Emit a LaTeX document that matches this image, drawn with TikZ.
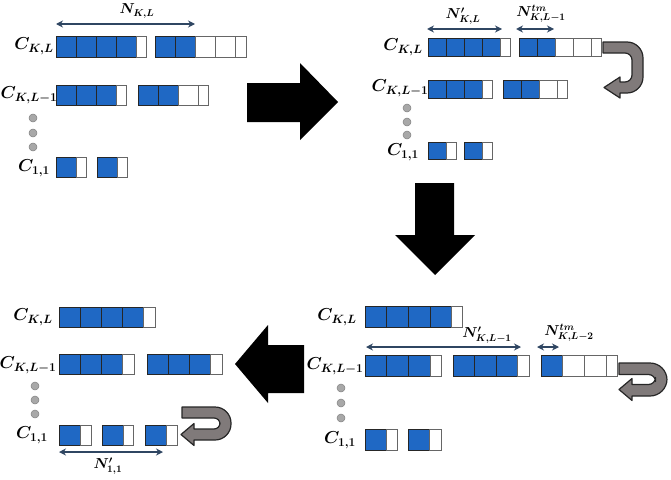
\documentclass[tikz,border=0pt]{standalone}
\usepackage{amsmath,bm}
\usetikzlibrary{arrows.meta}
\definecolor{cblue}{RGB}{31,104,196}
\definecolor{navy}{RGB}{47,70,98}
\definecolor{ugray}{RGB}{128,122,122}
\definecolor{dotgray}{RGB}{168,168,168}
\begin{document}
\begin{tikzpicture}[x=1pt,y=-1pt,
  bluecell/.style={fill=cblue,draw=black!85,line width=0.7pt},
  whitecell/.style={fill=white,draw=black!60,line width=0.7pt},
  clabel/.style={font=\fontsize{18}{20}\selectfont,inner sep=0pt},
  nlabel/.style={font=\fontsize{14}{16}\selectfont,inner sep=0pt},
  dimarrow/.style={draw=navy,line width=1.6pt,{Stealth[length=7pt,width=7pt]}-{Stealth[length=7pt,width=7pt]}},
  bigarrow/.style={fill=black,draw=none},
  uturn/.style={fill=ugray,draw=black!85,line width=1.2pt,line join=round},
  vdot/.style={circle,fill=dotgray,draw=black!50,line width=0.5pt,minimum size=8pt,inner sep=0pt}
]
\useasboundingbox (0,0) rectangle (671,479);

% ================= Panel 1 (top left) =================
\node[clabel] (p1a) at (34,46) {$\bm{C_{K,L}}$};
\node[clabel] (p1b) at (29,95) {$\bm{C_{K,L-1}}$};
\node[clabel] (p1c) at (34,168) {$\bm{C_{1,1}}$};
\node[vdot] (p1d1) at (33,118) {};
\node[vdot] (p1d2) at (33,133) {};
\node[vdot] (p1d3) at (33,147) {};
% row K,L
\foreach \x in {56,76,96,116} \draw[bluecell] (\x,36) rectangle ++(20,21);
\draw[whitecell] (136,36) rectangle (146,57);
\foreach \x in {155,175} \draw[bluecell] (\x,36) rectangle ++(20,21);
\foreach \x in {195,215} \draw[whitecell] (\x,36) rectangle ++(20,21);
\draw[whitecell] (235,36) rectangle (246,57);
% row K,L-1
\foreach \x in {56,76,96} \draw[bluecell] (\x,85) rectangle ++(20,20);
\draw[whitecell] (116,85) rectangle (126,105);
\foreach \x in {138,158} \draw[bluecell] (\x,85) rectangle ++(20,20);
\draw[whitecell] (178,85) rectangle (198,105);
\draw[whitecell] (198,85) rectangle (208,105);
% row 1,1
\draw[bluecell] (56,157) rectangle ++(20,20);
\draw[whitecell] (76,157) rectangle (86,177);
\draw[bluecell] (97,157) rectangle ++(20,20);
\draw[whitecell] (117,157) rectangle (127,177);
% dimension
\coordinate (n1a) at (56,24);
\coordinate (n1b) at (195,24);
\draw[dimarrow] (n1a) -- (n1b);
\node[nlabel] (n1l) at (137,11) {$\bm{N_{K,L}}$};

% ================= Panel 2 (top right) =================
\node[clabel] (p2a) at (403,47) {$\bm{C_{K,L}}$};
\node[clabel] (p2b) at (400,88) {$\bm{C_{K,L-1}}$};
\node[clabel] (p2c) at (403,152) {$\bm{C_{1,1}}$};
\node[vdot] (p2d1) at (407,108) {};
\node[vdot] (p2d2) at (407,122) {};
\node[vdot] (p2d3) at (407,135) {};
\foreach \x in {428,446,464,482} \draw[bluecell] (\x,38) rectangle ++(18,18);
\draw[whitecell] (500,38) rectangle (510,56);
\foreach \x in {519,537} \draw[bluecell] (\x,38) rectangle ++(18,18);
\foreach \x in {555,573} \draw[whitecell] (\x,38) rectangle ++(18,18);
\draw[whitecell] (591,38) rectangle (601,56);
\foreach \x in {428,446,464} \draw[bluecell] (\x,80) rectangle ++(18,18);
\draw[whitecell] (482,80) rectangle (492,98);
\foreach \x in {503,521} \draw[bluecell] (\x,80) rectangle ++(18,18);
\draw[whitecell] (539,80) rectangle (557,98);
\draw[whitecell] (557,80) rectangle (567,98);
\draw[bluecell] (428,142) rectangle ++(18,17);
\draw[whitecell] (446,142) rectangle (456,159);
\draw[bluecell] (464,142) rectangle ++(18,17);
\draw[whitecell] (482,142) rectangle (492,159);
\coordinate (n2a) at (427,29);
\coordinate (n2b) at (502,29);
\draw[dimarrow] (n2a) -- (n2b);
\node[nlabel] (n2l) at (463,16) {$\bm{N'_{K,L}}$};
\coordinate (n3a) at (516,29);
\coordinate (n3b) at (554,29);
\draw[dimarrow] (n3a) -- (n3b);
\node[nlabel] (n3l) at (541,14) {$\bm{N^{tm}_{K,L-1}}$};
% U-turn
\draw[uturn] (603,42) [rounded corners=16] -- (643,42) -- (643,93) [sharp corners] -- (620,93) -- (620,98) -- (604,87.5) -- (620,77) -- (620,82) [rounded corners=7] -- (632,82) -- (632,53) [sharp corners] -- (603,53) -- cycle;

% ================= Panel 3 (bottom right) =================
\node[clabel] (p3a) at (337,317) {$\bm{C_{K,L}}$};
\node[clabel] (p3b) at (335,366) {$\bm{C_{K,L-1}}$};
\node[clabel] (p3c) at (340,440) {$\bm{C_{1,1}}$};
\node[vdot] (p3d1) at (341,388) {};
\node[vdot] (p3d2) at (341,403) {};
\node[vdot] (p3d3) at (341,418) {};
\foreach \x in {365,386.7,408.4,430.1} \draw[bluecell] (\x,306) rectangle ++(21.7,21);
\draw[whitecell] (451.8,306) rectangle (462.5,327);
\foreach \x in {365,386.7,408.4} \draw[bluecell] (\x,355) rectangle ++(21.7,21);
\draw[whitecell] (430.1,355) rectangle (441,376);
\foreach \x in {453,474.5,496} \draw[bluecell] (\x,355) rectangle ++(21.5,21);
\draw[whitecell] (517.5,355) rectangle (529,376);
\draw[bluecell] (541,355) rectangle ++(21.5,21);
\draw[whitecell] (562.5,355) rectangle (584,376);
\draw[whitecell] (584,355) rectangle (606,376);
\draw[whitecell] (606,355) rectangle (617,376);
\draw[bluecell] (365,429) rectangle ++(21.5,21);
\draw[whitecell] (386.5,429) rectangle (397.5,450);
\draw[bluecell] (408,429) rectangle ++(21.5,21);
\draw[whitecell] (429.5,429) rectangle (441,450);
\coordinate (n4a) at (366,347);
\coordinate (n4b) at (521,347);
\draw[dimarrow] (n4a) -- (n4b);
\node[nlabel] (n4l) at (487,335) {$\bm{N'_{K,L-1}}$};
\coordinate (n5a) at (537,347);
\coordinate (n5b) at (559,347);
\draw[dimarrow] (n5a) -- (n5b);
\node[nlabel] (n5l) at (569,333) {$\bm{N^{tm}_{K,L-2}}$};
% U-turn
\draw[uturn] (619,363) [rounded corners=17] -- (667,363) -- (667,396) [sharp corners] -- (632,396) -- (632,400.5) -- (619,389.5) -- (632,378.5) -- (632,384.5) [rounded corners=7] -- (655.5,384.5) -- (655.5,374.5) [sharp corners] -- (619,374.5) -- cycle;

% ================= Panel 4 (bottom left) =================
\node[clabel] (p4a) at (33,317) {$\bm{C_{K,L}}$};
\node[clabel] (p4b) at (28,365) {$\bm{C_{K,L-1}}$};
\node[clabel] (p4c) at (32,435) {$\bm{C_{1,1}}$};
\node[vdot] (p4d1) at (35,386) {};
\node[vdot] (p4d2) at (35,400) {};
\node[vdot] (p4d3) at (35,414) {};
\foreach \x in {59,80,101,122} \draw[bluecell] (\x,307) rectangle ++(21,20);
\draw[whitecell] (143,307) rectangle (155,327);
\foreach \x in {59,80,101} \draw[bluecell] (\x,354) rectangle ++(21,20);
\draw[whitecell] (122,354) rectangle (134,374);
\foreach \x in {147,168,189} \draw[bluecell] (\x,354) rectangle ++(21,20);
\draw[whitecell] (210,354) rectangle (222,374);
\draw[bluecell] (59,425) rectangle ++(21,20);
\draw[whitecell] (80,425) rectangle (91,445);
\draw[bluecell] (102,425) rectangle ++(21,20);
\draw[whitecell] (123,425) rectangle (133,445);
\draw[bluecell] (145,425) rectangle ++(21,20);
\draw[whitecell] (166,425) rectangle (177,445);
\coordinate (n6a) at (59,452);
\coordinate (n6b) at (163,452);
\draw[dimarrow] (n6a) -- (n6b);
\node[nlabel] (n6l) at (108,466) {$\bm{N'_{1,1}}$};
% U-turn
\draw[uturn] (182,407) [rounded corners=16] -- (231,407) -- (231,440) [sharp corners] -- (194,440) -- (194,445.5) -- (181,434.5) -- (194,423.5) -- (194,429) [rounded corners=6] -- (220,429) -- (220,418) [sharp corners] -- (182,418) -- cycle;

% ================= big process arrows =================
\fill[bigarrow] (247,83) -- (300,83) -- (300,63) -- (338,102) -- (300,140) -- (300,122) -- (247,122) -- cycle;
\fill[bigarrow] (415,183) -- (454,183) -- (454,235) -- (475,235) -- (435,275) -- (395,235) -- (415,235) -- cycle;
\fill[bigarrow] (304,345) -- (304,393) -- (268,393) -- (268,403) -- (235,364) -- (268,325) -- (268,345) -- cycle;
\end{tikzpicture}
\end{document}
